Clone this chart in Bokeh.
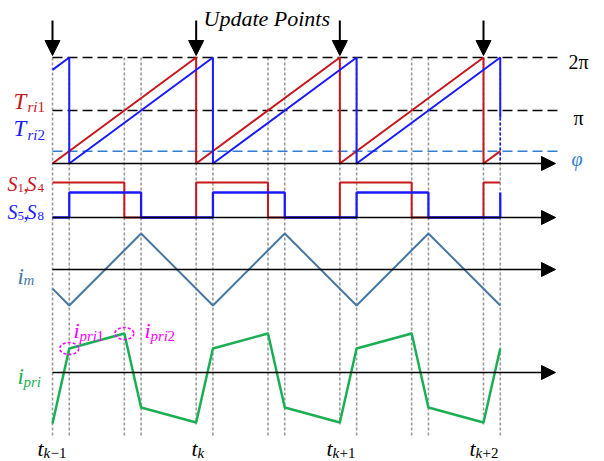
from bokeh.plotting import figure
from bokeh.models import Range1d, Arrow, NormalHead
from bokeh.core.properties import value
from bokeh.embed import file_html
from bokeh.resources import INLINE

# ---------------- data (phase in degrees, one switching period = 360) ----------------
PHI = 42                                   # phase shift between the two carriers
T_UPD = [0, 360, 720, 1080]                # update points t_{k-1} .. t_{k+2}
T_EVT = [0, 42, 180, 222, 360, 402, 540, 582, 720, 762, 900, 942, 1080, 1122]

TRI1_T = [0, 360, 360, 720, 720, 1080, 1080, 1122]
TRI1 = [0, 360, 0, 360, 0, 360, 0, 42]
TRI2_T = [0, 42, 42, 402, 402, 762, 762, 1122, 1122]
TRI2 = [318, 360, 0, 360, 0, 360, 0, 360, 156]
TRI_LEVELS = [360, 180]                    # 2*pi and pi reference levels

S14_T = [0, 180, 180, 360, 360, 540, 540, 720, 720, 900, 900, 1080, 1080, 1122]
S14 = [1, 1, 0, 0, 1, 1, 0, 0, 1, 1, 0, 0, 1, 1]
S58_T = [0, 42, 42, 222, 222, 402, 402, 582, 582, 762, 762, 942, 942, 1122, 1122]
S58 = [0, 0, 1, 1, 0, 0, 1, 1, 0, 0, 1, 1, 0, 0, 1]

IM_T = [0, 42, 222, 402, 582, 762, 942, 1122]
IM = [-0.53, -1, 1, -1, 1, -1, 1, -1]

IPRI = [-1.02, 0.48, 0.78, -0.70, -1.0, 0.48, 0.78, -0.70, -1.0, 0.48, 0.78, -0.70, -1.0, 0.48]
MARK_IDX = [1, 2]                          # i_pri1, i_pri2 sampling points

# ---------------- layout / style ----------------
W, H, PAD = 604, 461, 0
PX0, PX1 = 52, 483                         # pixel of phase 0 and 1080
sc = (PX1 - PX0) / 1080.0
xs = T_UPD[0] - (PX0 - PAD) / sc
xe = xs + W / sc
AX_END = (555 - PX0) / sc                  # axis arrow tip
DASH_END = (557 - PX0) / sc

RED = "#c8161d"
BLUE = "#1a1aff"
PHIC = "#2f7fd0"
IMC = "#4577a3"
GRN = "#1aaf54"
MAG = "#ff00ff"
GRAY = "#9a9a9a"
FONT = value("Liberation Serif")


def yr(base, gain):
    return Range1d(start=(base - (PAD + H)) / gain, end=(base - PAD) / gain)


p = figure(width=W, height=H, x_range=Range1d(xs, xe), y_range=Range1d(PAD + H, PAD),
           x_axis_location=None, y_axis_location=None, output_backend="svg",
           toolbar_location=None, min_border=0, outline_line_color=None)
p.grid.visible = False
p.background_fill_color = "white"
p.border_fill_color = "white"

p.extra_x_ranges = {"px": Range1d(PAD, PAD + W)}
p.extra_y_ranges = {
    "tri": yr(163, 106 / 360.0),
    "s14": yr(217, 35),
    "s58": yr(217, 25),
    "im": yr(269, 36),
    "ipri": yr(372, 50),
}

# vertical dotted event lines
upd_set = set(T_UPD[1:])
p.segment(x0=T_EVT, x1=T_EVT, y0=[57] * len(T_EVT),
          y1=[424 if t in upd_set else 435 for t in T_EVT],
          line_color=GRAY, line_width=1.6, line_dash="3 2")

# reference dashed levels in carrier panel
for lv in TRI_LEVELS:
    p.line([0, DASH_END], [lv, lv], y_range_name="tri", line_color="black",
           line_width=1.4, line_dash="10 5")
p.line([0, DASH_END], [PHI, PHI], y_range_name="tri", line_color=PHIC,
       line_width=1.5, line_dash="10 5")

# axes with arrows
for rn in ["tri", "s14", "im", "ipri"]:
    p.add_layout(Arrow(end=NormalHead(size=14, fill_color="black", line_color="black"),
                       x_start=0, y_start=0, x_end=AX_END, y_end=0,
                       y_range_name=rn, line_color="black", line_width=1.6))

# carriers
p.line(TRI1_T, TRI1, y_range_name="tri", line_color=RED, line_width=2)
p.line(TRI2_T, TRI2, y_range_name="tri", line_color=BLUE, line_width=2)
p.line([TRI2_T[-1], TRI2_T[-1]], [TRI2[-1], 0], y_range_name="tri",
       line_color=BLUE, line_width=1.6, line_dash="3 2")

# gate signals
p.line(S14_T, S14, y_range_name="s14", line_color=RED, line_width=2)
p.line(S58_T, S58, y_range_name="s58", line_color=BLUE, line_width=2.3)

# currents
p.line(IM_T, IM, y_range_name="im", line_color=IMC, line_width=2)
p.line(T_EVT, IPRI, y_range_name="ipri", line_color=GRN, line_width=2.5)
p.ellipse(x=[T_EVT[i] for i in MARK_IDX], y=[IPRI[i] for i in MARK_IDX],
          width=19, height=12, width_units="screen", height_units="screen",
          y_range_name="ipri", fill_color=None, line_color=MAG,
          line_width=1.6, line_dash="3 2")

# update-point arrows
for t in T_UPD:
    p.add_layout(Arrow(end=NormalHead(size=15, fill_color="black", line_color="black"),
                       x_start=t, y_start=20, x_end=t, y_end=55,
                       line_color="black", line_width=2))


def lab(x, y, txt, size, color, style="italic"):
    p.text(x=x, y=y, text=txt, x_range_name="px", text_font=FONT,
           text_font_style=style, text_font_size=f"{size}px", text_color=color,
           text_align="left", text_baseline="alphabetic")


lab([203], [18], ["Update Points"], 22, "black")
lab([568], [61], ["2π"], 20, "black", "normal")
lab([573], [117], ["π"], 20, "black", "normal")
lab([571], [158], ["φ"], 20, PHIC)

lab([13], [101], ["T"], 23, RED)
lab([27], [106], ["ri"], 15, RED)
lab([37], [106], ["1"], 15, RED, "normal")
lab([13], [128], ["T"], 23, BLUE)
lab([27], [134], ["ri"], 15, BLUE)
lab([37], [134], ["2"], 15, BLUE, "normal")

lab([7, 26], [183, 183], ["S", "S"], 20, RED)
lab([23], [183], [","], 20, RED, "normal")
lab([17, 37], [187, 187], ["1", "4"], 13, RED, "normal")
lab([7, 26], [211, 211], ["S", "S"], 20, BLUE)
lab([23], [211], [","], 20, BLUE, "normal")
lab([17, 37], [215, 215], ["5", "8"], 13, BLUE, "normal")

lab([17], [276], ["i"], 23, IMC)
lab([23], [279], ["m"], 15, IMC)
lab([17], [376], ["i"], 23, GRN)
lab([23], [381], ["pri"], 15, GRN)
lab([73, 144], [330, 330], ["i", "i"], 22, MAG)
lab([79, 150], [335, 335], ["pri", "pri"], 15, MAG)
lab([96, 167], [335, 335], ["1", "2"], 15, MAG, "normal")

lab([37, 191, 326, 469], [448] * 4, ["t"] * 4, 22, "black")
lab([43, 197, 332, 475], [452] * 4, ["k"] * 4, 15, "black")
lab([50, 339, 482], [452] * 3, ["−1", "+1", "+2"], 15, "black", "normal")

open("out.html", "w").write(file_html(p, INLINE))
